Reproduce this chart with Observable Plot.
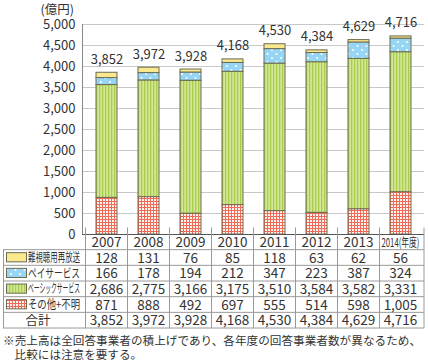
<!DOCTYPE html>
<html><head><meta charset="utf-8">
<script src="https://cdn.jsdelivr.net/npm/d3@7"></script>
<script src="https://cdn.jsdelivr.net/npm/@observablehq/plot@0.6"></script>
<style>
html,body{margin:0;padding:0;background:#fff;overflow:hidden;}
#chart{width:428px;height:362px;position:relative;}
#chart svg{max-width:none;}
</style></head>
<body><div id="chart"></div>
<script>
const years = ["2007","2008","2009","2010","2011","2012","2013","2014"];
const yearLabels = ["2007","2008","2009","2010","2011","2012","2013","2014(年度)"];
const seriesNames = ["難視聴用再放送","ペイサービス","ベーシックサービス","その他+不明"];
const nanshi = [128,131,76,85,118,63,62,56];
const pay = [166,178,194,212,347,223,387,324];
const basic = [2686,2775,3166,3175,3510,3584,3582,3331];
const other = [871,888,492,697,555,514,598,1005];
const totals = [3852,3972,3928,4168,4530,4384,4629,4716];
const yTicks = [0,500,1000,1500,2000,2500,3000,3500,4000,4500,5000];
const unitLabel = "(億円)";
const totalLabel = "合計";
const footnote = ["※売上高は全回答事業者の積上げであり、各年度の回答事業者数が異なるため、","比較には注意を要する。"];

const seriesValues = [nanshi, pay, basic, other];
const patterns = ["url(#pYellow)","url(#pBlue)","url(#pGreen)","url(#pRed)"];
const fmt = v => v.toLocaleString("en-US");

const data = [];
seriesNames.forEach((s, si) => years.forEach((y, i) => data.push({year: y, series: s, value: seriesValues[si][i]})));

const FONT = "'Noto Sans CJK JP','Noto Sans',sans-serif";
const TXT = "#333";
const BAR_STROKE = "#6b6b52";

const chart = Plot.plot({
  width: 428, height: 362,
  marginLeft: 82, marginRight: 4, marginTop: 24, marginBottom: 128,
  style: {fontFamily: FONT, fontSize: "13px", color: TXT, background: "#fff", overflow: "visible"},
  x: {domain: years, paddingInner: 0.5, paddingOuter: 0.25, axis: null},
  y: {domain: [0, 5000], ticks: yTicks, tickFormat: fmt, tickSize: 0, tickPadding: 7, label: null},
  color: {type: "ordinal", domain: seriesNames, range: patterns},
  marks: [
    Plot.gridY(yTicks, {stroke: "#c8c8c8", strokeOpacity: 1}),
    Plot.barY(data, {x: "year", y: "value", fill: "series", order: [...seriesNames].reverse(),
      stroke: BAR_STROKE, strokeWidth: 1}),
    Plot.frame({anchor: "left", stroke: "#888"}),
    Plot.ruleY([0], {stroke: "#555"}),
    Plot.text(totals, {x: years, y: totals, text: totals.map(fmt), dy: -9, lineAnchor: "bottom", textAnchor: "middle", fill: TXT, fontSize: 13})
  ]
});

const svg = d3.select(chart);
const defs = svg.insert("defs", ":first-child");
defs.append("pattern").attr("id","pYellow").attr("patternUnits","userSpaceOnUse").attr("width",4).attr("height",4)
  .append("rect").attr("width",4).attr("height",4).attr("fill","#fbe78c");
const pb = defs.append("pattern").attr("id","pBlue").attr("patternUnits","userSpaceOnUse").attr("width",9).attr("height",8);
pb.append("rect").attr("width",9).attr("height",8).attr("fill","#96d6f4");
pb.append("circle").attr("cx",2).attr("cy",2).attr("r",1).attr("fill","#fff");
pb.append("circle").attr("cx",6.5).attr("cy",6).attr("r",1).attr("fill","#fff");
const pg = defs.append("pattern").attr("id","pGreen").attr("patternUnits","userSpaceOnUse").attr("width",3).attr("height",4);
pg.append("rect").attr("width",3).attr("height",4).attr("fill","#d3e796");
pg.append("rect").attr("width",1.3).attr("height",4).attr("fill","#aacd4e");
const pr = defs.append("pattern").attr("id","pRed").attr("patternUnits","userSpaceOnUse").attr("width",3).attr("height",3);
pr.append("rect").attr("width",3).attr("height",3).attr("fill","#fff4f0");
pr.append("rect").attr("width",1).attr("height",3).attr("fill","#f06a58");
pr.append("rect").attr("width",3).attr("height",1).attr("fill","#f06a58");

const xs = chart.scale("x");
const ys = chart.scale("y");
const step = xs.step;
const colStart = y => xs.apply(y) - step * xs.paddingInner / 2;
const left = 3, right = xs.range[1];
const rowTop = ys.apply(0), rowH = 15.67;
const nRows = 6;
const g = svg.append("g").attr("font-family", FONT).attr("fill", TXT).attr("text-anchor", "start");
const lineColor = "#9a9a9a";

g.append("text").attr("x",74).attr("y",14).attr("text-anchor","end").attr("font-size",12.5).text(unitLabel);

for (let r = 1; r <= nRows; r++) {
  g.append("line").attr("x1", left).attr("x2", right)
    .attr("y1", rowTop + r*rowH).attr("y2", rowTop + r*rowH).attr("stroke", lineColor);
}
g.append("line").attr("x1", left+0.5).attr("x2", left+0.5).attr("y1", rowTop+rowH).attr("y2", rowTop+nRows*rowH).attr("stroke", lineColor);
const bounds = years.map(colStart).concat([right]);
bounds.forEach(x => g.append("line").attr("x1", x).attr("x2", x).attr("y1", rowTop - 6.5).attr("y2", rowTop+nRows*rowH).attr("stroke", lineColor));

years.forEach((y, i) => {
  const t = g.append("text").attr("x", xs.apply(y) + xs.bandwidth/2).attr("y", rowTop + rowH/2 + 5)
    .attr("text-anchor","middle").attr("font-size", 13.5).text(yearLabels[i]);
  if (yearLabels[i].length > 4) t.attr("textLength", step - 4).attr("lengthAdjust","spacingAndGlyphs").attr("font-size", 12);
});
seriesNames.forEach((s, si) => {
  const yTop = rowTop + (si+1)*rowH;
  g.append("rect").attr("x", 6.5).attr("y", yTop + 3).attr("width", 20).attr("height", rowH - 6.5)
    .attr("fill", patterns[si]).attr("stroke", BAR_STROKE).attr("stroke-width", 1);
  g.append("text").attr("x", 28).attr("y", yTop + rowH/2 + 4.5).attr("font-size", 12.5)
    .attr("textLength", 52).attr("lengthAdjust","spacingAndGlyphs").text(s);
  years.forEach((y, i) => {
    g.append("text").attr("x", xs.apply(y) + xs.bandwidth/2).attr("y", yTop + rowH/2 + 5)
      .attr("text-anchor","middle").attr("font-size", 13.5).text(fmt(seriesValues[si][i]));
  });
});
{
  const yTop = rowTop + 5*rowH;
  g.append("text").attr("x", 38).attr("y", yTop + rowH/2 + 4.5).attr("text-anchor","middle").attr("font-size", 12.5).text(totalLabel);
  years.forEach((y, i) => {
    g.append("text").attr("x", xs.apply(y) + xs.bandwidth/2).attr("y", yTop + rowH/2 + 5)
      .attr("text-anchor","middle").attr("font-size", 13.5).text(fmt(totals[i]));
  });
}
g.append("text").attr("x", 3).attr("y", 345).attr("font-size", 11.6).attr("textLength", 418).attr("lengthAdjust","spacing").text(footnote[0]);
g.append("text").attr("x", 14.6).attr("y", 359).attr("font-size", 11.6).text(footnote[1]);

document.getElementById("chart").appendChild(chart);
</script></body></html>
